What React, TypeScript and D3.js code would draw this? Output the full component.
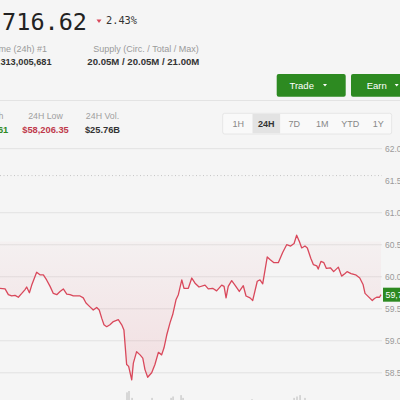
import React from "react";
import * as d3 from "d3";

// price series (hours since window start, price in thousands USD)
const hours = [0,0.28,0.46,0.64,0.83,1.01,1.2,1.38,1.47,1.62,1.75,2.02,2.2,2.39,2.57,2.76,2.94,3.13,3.31,3.49,3.68,3.86,4.04,4.41,4.59,4.74,4.96,5.14,5.33,5.47,5.61,5.73,5.88,6.06,6.25,6.52,6.71,6.83,6.98,7.09,7.26,7.35,7.53,7.72,7.87,7.99,8.14,8.36,8.54,8.73,8.91,9.04,9.19,9.37,9.52,9.7,9.83,10.02,10.14,10.38,10.57,10.75,10.97,11.3,11.48,11.72,11.94,12.22,12.35,12.46,12.58,12.77,12.95,13.19,13.41,13.56,13.78,13.93,14.18,14.33,14.48,14.73,14.88,15.1,15.34,15.58,15.8,16.02,16.21,16.35,16.5,16.63,16.81,16.94,17.13,17.27,17.46,17.54,17.69,17.85,17.99,18.21,18.39,18.65,18.83,19.02,19.13,19.35,19.6,19.83,20.01,20.12,20.3,20.52,20.64,20.76,20.92,21.0];
const prices = [59.82,59.81,59.72,59.7,59.71,59.68,59.74,59.8,59.84,59.75,59.87,60.07,60.03,60.03,59.95,59.85,59.74,59.72,59.77,59.81,59.73,59.72,59.7,59.7,59.67,59.59,59.53,59.48,59.52,59.48,59.35,59.25,59.22,59.25,59.3,59.33,59.25,59.17,58.63,58.6,58.39,58.65,58.83,58.78,58.73,58.55,58.43,58.5,58.63,58.82,58.78,58.89,59.09,59.28,59.41,59.64,59.72,59.95,59.82,59.82,59.98,59.9,59.84,59.87,59.81,59.82,59.78,59.87,59.85,59.67,59.85,59.94,59.87,59.77,59.86,59.7,59.67,59.63,59.93,59.95,59.89,60.31,60.27,60.22,60.22,60.38,60.5,60.48,60.52,60.65,60.55,60.45,60.48,60.45,60.29,60.19,60.17,60.12,60.24,60.22,60.13,60.14,60.08,60.15,60.01,60.05,60.08,60.05,60.03,59.98,59.88,59.74,59.69,59.63,59.66,59.68,59.68,59.72];

const volHours = [7.0,7.11,7.28,8.38,9.43,9.54,9.98,10.09,13.89,16.21,16.37,16.54,16.81];
const volValues = [7,8,3,3,3,4,5,3,2,3,4,5,3];

const yTicks = [58.5,59.0,59.5,60.0,60.5,61.0,61.5,62.0];
const high24 = 61.58;
const baselineValue = 60.55;

const ranges = ["1H","24H","7D","1M","YTD","1Y"];
const activeRange = "24H";

const stats = [
  { label: "24H High", value: "$61,580.61", color: "#2f8a22" },
  { label: "24H Low", value: "$58,206.35", color: "#c0394b" },
  { label: "24H Vol.", value: "$25.76B", color: "#333" },
];

const sans = "'Liberation Sans', Arial, sans-serif";
const mono = "'DejaVu Sans Mono', monospace";

export default function App() {
  const W = 400, H = 400;
  const x = d3.scaleLinear().domain([0, 21]).range([0, 381]);
  const y = d3.scaleLinear().domain([58.5, 62.0]).range([372.8, 148.7]);
  const vy = d3.scaleLinear().domain([0, 8]).range([0, 11]);
  const pts = hours.map((h, i) => [h, prices[i]] as [number, number]);
  const line = d3.line<[number, number]>().x(d => x(d[0])).y(d => y(d[1]))(pts) || "";
  const area = d3.area<[number, number]>().x(d => x(d[0])).y0(y(baselineValue)).y1(d => y(d[1]))(pts) || "";
  const last = prices[prices.length - 1];
  const statX = [-15, 45.5, 102.5];
  const rangeX = d3.scalePoint<string>().domain(ranges).range([238.3, 378.3]);

  return (
    <svg width={W} height={H} style={{ position: "fixed", left: 0, top: 0, background: "#f5f5f5" }} fontFamily={sans}>
      <defs>
        <linearGradient id="fillg" x1="0" y1={y(baselineValue)} x2="0" y2={y(58.4)} gradientUnits="userSpaceOnUse">
          <stop offset="0" stopColor="#e05566" stopOpacity={0.03} />
          <stop offset="1" stopColor="#e05566" stopOpacity={0.14} />
        </linearGradient>
      </defs>
      <rect width={W} height={H} fill="#f5f5f5" />
      {/* header */}
      <text x={87} y={30} textAnchor="end" fontFamily={mono} fontSize={23.5} fill="#222">$59,716.62</text>
      <path d="M96.5,19.5 L101.5,19.5 L99,23 Z" fill="#d9485b" />
      <text x={106} y={24} fontFamily={mono} fontSize={10.3} fill="#333">2.43%</text>
      <text x={47} y={52} textAnchor="end" fontSize={9} fill="#9a9a9a">Volume (24h) #1</text>
      <text x={51.5} y={64.5} textAnchor="end" fontSize={9.2} fontWeight="bold" fill="#333">$1,197,313,005,681</text>
      <text x={93.3} y={52} fontSize={9} fill="#9a9a9a">Supply (Circ. / Total / Max)</text>
      <text x={87.3} y={64.5} fontSize={9.6} fontWeight="bold" fill="#333">20.05M / 20.05M / 21.00M</text>
      {/* buttons */}
      <rect x={276.7} y={74} width={69} height={22.7} rx={2} fill="#2d8a21" />
      <text x={301.7} y={88.5} textAnchor="middle" fontSize={9.5} fill="#fff">Trade</text>
      <path d="M323,84 L327,84 L325,86.5 Z" fill="#fff" />
      <rect x={351} y={74} width={69} height={22.7} rx={2} fill="#2d8a21" />
      <text x={376.7} y={88.5} textAnchor="middle" fontSize={9.5} fill="#fff">Earn</text>
      <path d="M394.7,84 L398.7,84 L396.7,86.5 Z" fill="#fff" />
      <line x1={0} x2={W} y1={100.5} y2={100.5} stroke="#e3e3e3" />
      {/* stats */}
      {stats.map((s, i) => (
        <g key={s.label}>
          <text x={statX[i]} y={119} textAnchor="middle" fontSize={8.8} fill="#a0a0a0">{s.label}</text>
          <text x={statX[i]} y={133} textAnchor="middle" fontSize={9.3} fontWeight="bold" fill={s.color}>{s.value}</text>
        </g>
      ))}
      {/* range selector */}
      <rect x={222.7} y={113.3} width={169} height={20.7} rx={2} fill="#f9f9f9" stroke="#e6e6e6" />
      {ranges.map(r => (
        <g key={r}>
          {r === activeRange && <rect x={(rangeX(r) as number) - 13.8} y={114} width={27.6} height={19.3} fill="#e3e3e3" />}
          <text x={rangeX(r)} y={127} textAnchor="middle" fontSize={9} fontWeight={r === activeRange ? "bold" : "normal"} fill={r === activeRange ? "#333" : "#888"}>{r}</text>
        </g>
      ))}
      {/* grid */}
      {yTicks.map(t => (
        <g key={t}>
          {t !== 61.5 && <line x1={0} x2={382} y1={y(t)} y2={y(t)} stroke="#e2e2e2" />}
          <text x={385} y={y(t) + 3} fontSize={8.5} fill="#9a9a9a">{d3.format(",.2f")(t * 1000).replace(",", ".")}</text>
        </g>
      ))}
      <line x1={0} x2={382} y1={y(high24)} y2={y(high24)} stroke="#c4c4c4" strokeDasharray="1,2.5" />
      {/* volume */}
      {volHours.map((h, i) => (
        <rect key={i} x={x(h) - 0.8} y={402 - vy(volValues[i])} width={1.6} height={vy(volValues[i])} fill="#d0d0d0" />
      ))}
      {/* price */}
      <path d={area} fill="url(#fillg)" />
      <path d={line} fill="none" stroke="#d9485b" strokeWidth={1.3} strokeLinejoin="round" />
      <rect x={383} y={y(last) - 7} width={30} height={14} fill="#2d8a21" />
      <text x={385.5} y={y(last) + 3.2} fontSize={8.8} fill="#fff">{d3.format(",.2f")(last * 1000)}</text>
    </svg>
  );
}
